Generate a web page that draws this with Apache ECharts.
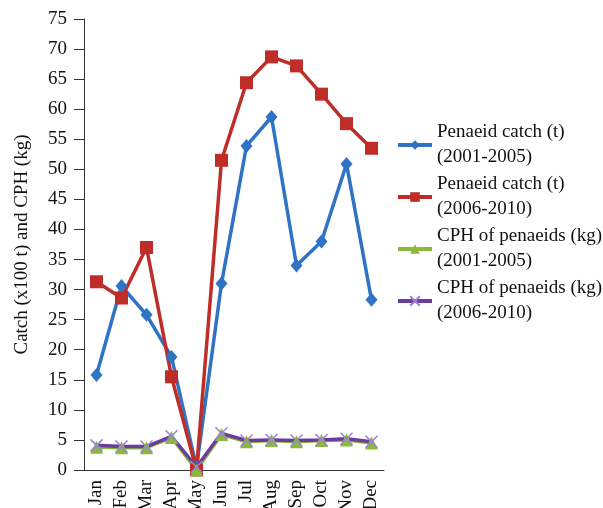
<!DOCTYPE html>
<html><head><meta charset="utf-8">
<script src="https://cdn.jsdelivr.net/npm/echarts@6/dist/echarts.min.js"></script>
<style>html,body{margin:0;padding:0;background:#fff}#c{width:603px;height:508px}</style>
</head><body><div id="c"></div>
<script>
const months = ['Jan','Feb','Mar','Apr','May','Jun','Jul','Aug','Sep','Oct','Nov','Dec'];
const catch0105 = [15.8, 30.6, 25.8, 18.8, 0.4, 31.0, 53.9, 58.7, 34.0, 38.0, 50.9, 28.3];
const catch0610 = [31.3, 28.6, 37.0, 15.5, 0.0, 51.5, 64.4, 68.7, 67.2, 62.5, 57.6, 53.5];
const cph0105 = [3.8, 3.7, 3.7, 5.4, 0.0, 5.9, 4.7, 4.9, 4.7, 4.9, 5.0, 4.5];
const cph0610 = [4.1, 3.9, 3.9, 5.6, 0.5, 6.1, 4.9, 5.0, 4.9, 5.0, 5.2, 4.7];
const seriesNames = ['Penaeid catch (t)\n(2001-2005)','Penaeid catch (t)\n(2006-2010)','CPH of penaeids (kg)\n(2001-2005)','CPH of penaeids (kg)\n(2006-2010)'];
const yTitle = 'Catch (x100 t) and CPH (kg)';

const font = 'Liberation Serif';
const chart = echarts.init(document.getElementById('c'), null, {renderer:'canvas'});
const xPath = 'path://M0,0L10,10M10,0L0,10';
chart.setOption({
  animation:false,
  textStyle:{fontFamily:font},
  grid:{left:84, top:19, right:219, bottom:38, containLabel:false, outerBoundsMode:'none'},
  legend:{
    orient:'vertical', left:391, top:115, itemWidth:34, itemHeight:12, itemGap:2,
    lineStyle:{width:4},
    textStyle:{fontFamily:font, fontSize:19, color:'#111', lineHeight:25},
    data:seriesNames
  },
  xAxis:{
    type:'category', data:months, boundaryGap:true,
    axisLine:{lineStyle:{color:'#333', width:1}},
    axisTick:{inside:true, length:10, lineStyle:{color:'#333'}},
    axisLabel:{rotate:90, margin:10, fontFamily:font, fontSize:19, color:'#111', interval:0}
  },
  yAxis:{
    type:'value', min:0, max:75, interval:5,
    name:yTitle, nameLocation:'middle', nameGap:52, nameRotate:90,
    nameTextStyle:{fontFamily:font, fontSize:19, color:'#111'},
    axisLine:{show:true, lineStyle:{color:'#333', width:1}},
    axisTick:{show:true, length:10, lineStyle:{color:'#333'}},
    axisLabel:{margin:17, fontFamily:font, fontSize:19, color:'#111'},
    splitLine:{show:false}
  },
  series:[
    {name:seriesNames[0], type:'line', data:catch0105, symbol:'diamond', symbolSize:[12,14],
     lineStyle:{color:'#2F73C4', width:3.5}, itemStyle:{color:'#2F73C4'}},
    {name:seriesNames[1], type:'line', data:catch0610, symbol:'rect', symbolSize:13,
     lineStyle:{color:'#BE2D28', width:3.5}, itemStyle:{color:'#BE2D28'}},
    {name:seriesNames[2], type:'line', data:cph0105, symbol:'triangle', symbolSize:13,
     lineStyle:{color:'#8BB93B', width:3.5}, itemStyle:{color:'#8BB93B'}},
    {name:seriesNames[3], type:'line', data:cph0610, symbol:xPath, symbolSize:12,
     lineStyle:{color:'#6C3B9E', width:3.5}, itemStyle:{color:'rgba(0,0,0,0)', borderColor:'#9A82D4', borderWidth:1.5}}
  ]
});
</script></body></html>
